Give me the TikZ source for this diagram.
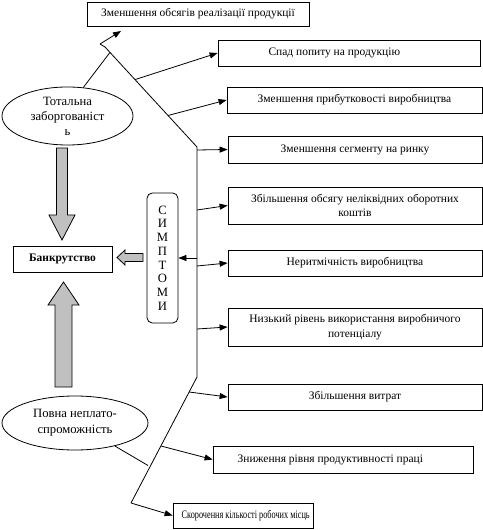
\documentclass[tikz,border=0pt]{standalone}
\usepackage{fontspec}
\setmainfont{Liberation Serif}
\usetikzlibrary{arrows.meta,shapes.geometric}
\definecolor{arrgrey}{RGB}{192,192,192}
\begin{document}
\begin{tikzpicture}[x=0.75pt,y=-0.75pt,line width=0.6pt,
  txt/.style={font=\fontsize{8.6}{11}\selectfont},
  box/.style={draw,rectangle,inner sep=0pt,align=center,txt},
  ell/.style={draw,ellipse,inner sep=0pt,align=center,txt},
  conn/.style={-{Triangle[length=6pt,width=4.5pt]}},
  bigarrow/.style={draw,fill=arrgrey,line width=0.6pt}]
\useasboundingbox (0,0) rectangle (482,530);
% boxes
\node[box,minimum width=166.5pt,minimum height=18pt] (box1) at (198,14) {Зменшення обсягів реалізації продукції};
\node[box,minimum width=196.5pt,minimum height=19.5pt] (box2) at (349,53) {\hspace*{-22pt}Спад попиту на продукцію};
\node[box,minimum width=191.25pt,minimum height=19.5pt] (box3) at (354.5,100) {Зменшення прибутковості виробництва};
\node[box,minimum width=190.5pt,minimum height=20.25pt] (box4) at (355,149.5) {Зменшення сегменту на ринку};
\node[box,minimum width=190.5pt,minimum height=27.75pt] (box5) at (355,205.5) {Збільшення обсягу неліквідних оборотних\\коштів};
\node[box,minimum width=190.5pt,minimum height=19.5pt] (box6) at (355,263) {Неритмічність виробництва};
\node[box,minimum width=190.5pt,minimum height=28.5pt] (box7) at (355,327) {Низький рівень використання виробничого\\потенціалу};
\node[box,minimum width=190.5pt,minimum height=19.5pt] (box8) at (355,397) {Збільшення витрат};
\node[box,minimum width=195pt,minimum height=20.25pt] (box9) at (343,459.5) {\hspace*{-19pt}Зниження рівня продуктивності праці};
\node[box,minimum width=105pt,minimum height=18.75pt] (box10) at (243,515.5) {\hspace*{4pt}\scalebox{0.72}[1]{Скорочення кількості робочих місць}};
\node[box,minimum width=74.25pt,minimum height=19.5pt,font=\fontsize{8.6}{11}\selectfont\bfseries] (bank) at (62.5,259) {Банкрутство};
\node[draw,rectangle,rounded corners=4pt,minimum width=23.25pt,minimum height=97.5pt,inner sep=0pt] (symp) at (162.5,258) {};
\node[txt,align=center,font=\fontsize{9.5}{10.3}\selectfont] (symptxt) at (162.5,258) {С\\И\\М\\П\\Т\\О\\М\\И};
% ellipses
\node[ell,minimum width=98.25pt,minimum height=43.5pt,font=\fontsize{9.5}{11.2}\selectfont] (e1) at (67.5,116) {Тотальна\\заборгованіст\\ь};
\node[ell,minimum width=109.5pt,minimum height=40.5pt,font=\fontsize{9.5}{11.8}\selectfont] (e2) at (75,423) {Повна неплато-\\спроможність};
% polyline
\coordinate (a1) at (121,31);
\coordinate (t1) at (100,44);
\coordinate (t2) at (105,47);
\coordinate (d1end) at (197,147);
\coordinate (vend) at (197,377);
\coordinate (d2end) at (131,503);
\coordinate (b2) at (135,79.6);
\coordinate (b3) at (168,115.5);
\coordinate (b4) at (197,150);
\coordinate (b5) at (197,210);
\coordinate (bs) at (197,258);
\coordinate (b6) at (197,266);
\coordinate (b7) at (197,329);
\coordinate (b8) at (189,392);
\coordinate (b9) at (161,446);
\coordinate (e1j) at (110,52.4);
\coordinate (e2j) at (148,465.5);
\draw (t1) -- (t2) -- (d1end) -- (vend) -- (d2end);
\draw[conn] (t1) -- (a1);
\draw (e1.61) -- (e1j);
\draw (e2.-30) -- (e2j);
\draw[conn] (b2) -- (box2.west);
\draw[conn] (b3) -- (box3.west);
\draw[conn] (b4) -- (box4.west);
\draw[conn] (b5) -- (box5.west);
\draw[conn] (b6) -- (box6.west);
\draw[conn] (b7) -- (box7.west);
\draw[conn] (b8) -- (box8.west);
\draw[conn] (b9) -- (box9.west);
\draw[conn] (d2end) -- (box10.west);
\draw[conn] (bs) -- (symp.east);
% grey block arrows
\draw[bigarrow] (56.5,148) -- (67.5,148) -- (67.5,215) -- (75,215) -- (62,240) -- (49,215) -- (56.5,215) -- cycle;
\draw[bigarrow] (55,387) -- (72,387) -- (72,305) -- (79,305) -- (63.5,282) -- (48,305) -- (55,305) -- cycle;
\draw[bigarrow] (143,253.5) -- (125,253.5) -- (125,250) -- (117,257.5) -- (125,265) -- (125,261.5) -- (143,261.5) -- cycle;
\end{tikzpicture}
\end{document}
